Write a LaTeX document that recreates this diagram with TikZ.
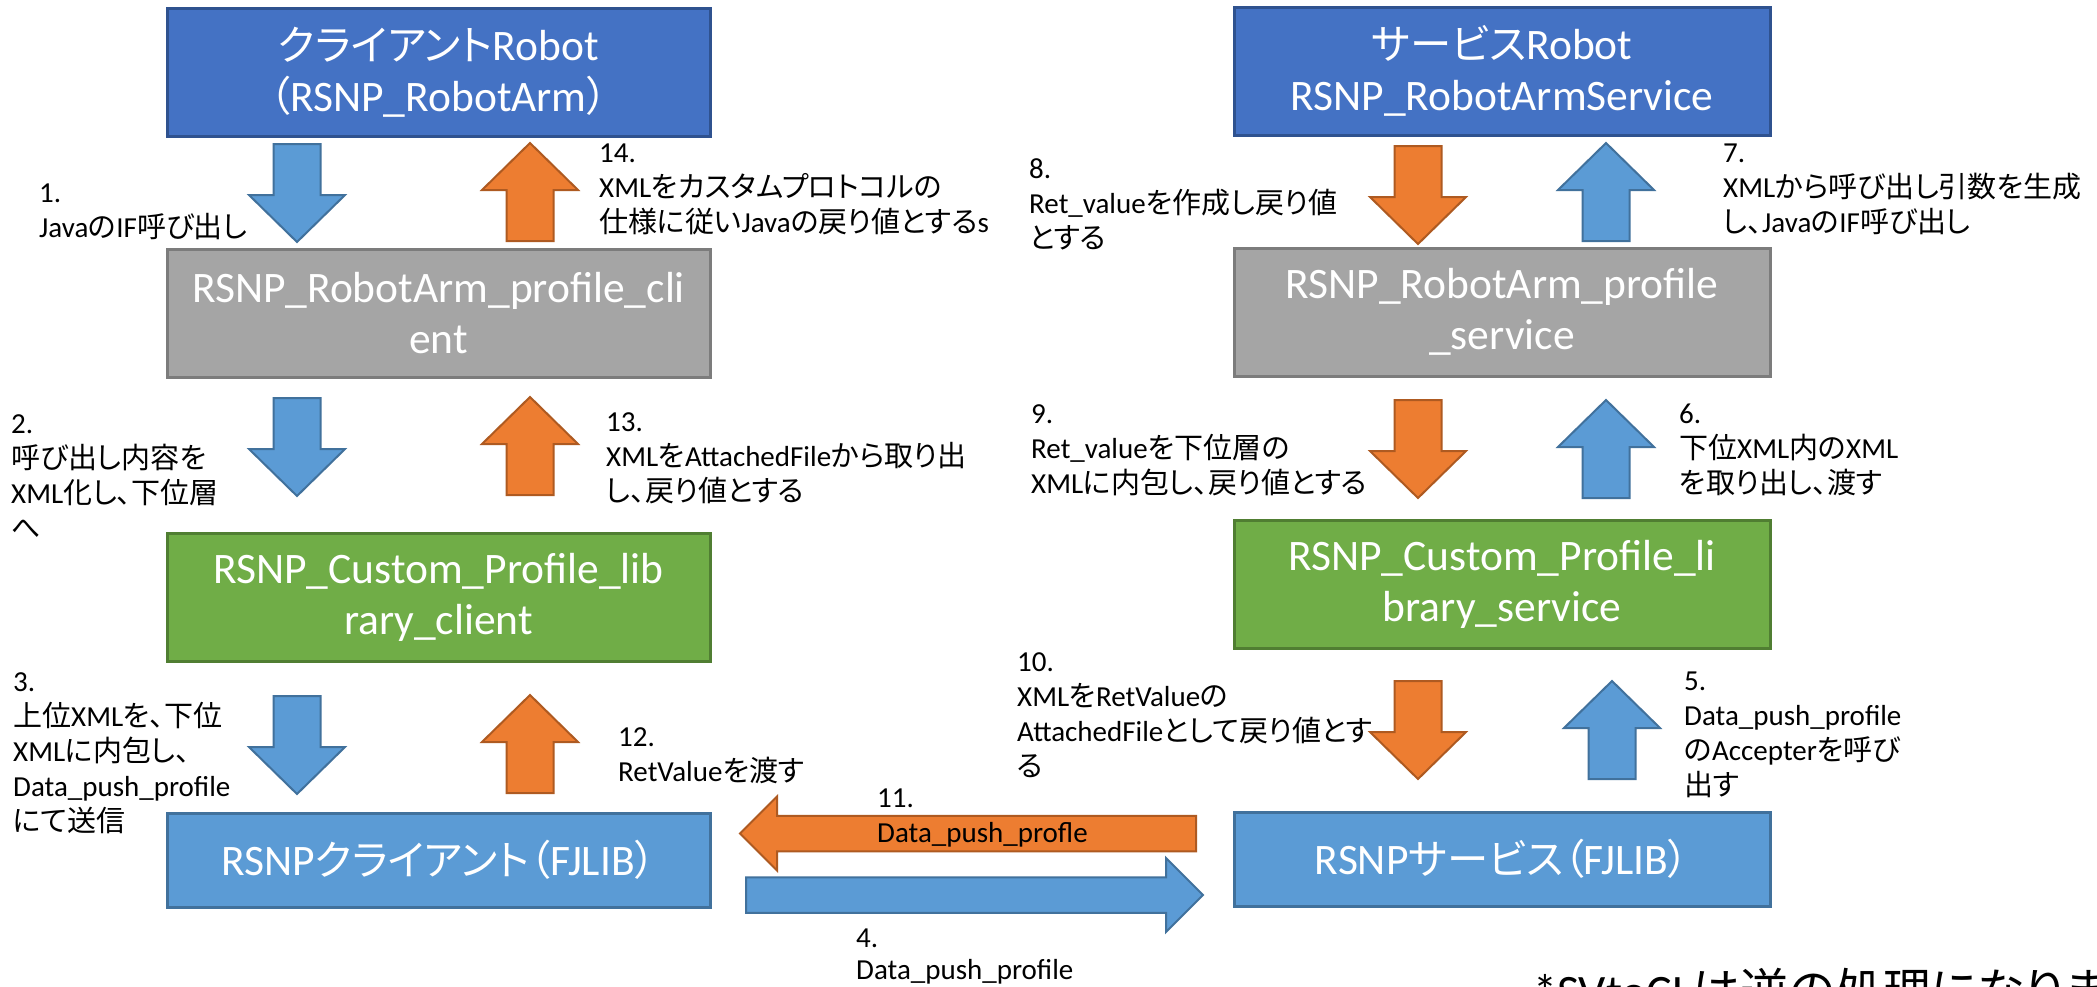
\documentclass[tikz,border=0pt]{standalone}
\usepackage{fontspec}
\setmainfont{Carlito}
\newfontfamily\jpnote[Scale=1.0,RawFeature={+palt}]{Noto Sans CJK JP}
\newfontfamily\jpbox[Scale=0.95,RawFeature={+palt}]{Noto Sans CJK JP}
\let\jpcur\jpnote
\newcommand\jtxt[1]{{\jpcur #1}}

\definecolor{robotblue}{HTML}{4472C4}
\definecolor{robotedge}{HTML}{2F528F}
\definecolor{libgray}{HTML}{A5A5A5}
\definecolor{grayedge}{HTML}{7C7C7C}
\definecolor{libgreen}{HTML}{70AD47}
\definecolor{greenedge}{HTML}{507E32}
\definecolor{fjblue}{HTML}{5B9BD5}
\definecolor{fjedge}{HTML}{41719C}
\definecolor{callorange}{HTML}{ED7D31}
\definecolor{orangeedge}{HTML}{AE5A21}

\tikzset{
  layer/.style={draw, line width=3pt, text=white, align=center, inner sep=0pt,
    font=\fontsize{43.5}{51}\selectfont\let\jpcur\jpbox},
  leftcol/.style={minimum width=543pt},
  rightcol/.style={minimum width=536pt},
  tall/.style={minimum height=128pt},
  flat/.style={minimum height=94pt},
  robotbox/.style={layer, fill=robotblue, draw=robotedge},
  profilebox/.style={layer, fill=libgray, draw=grayedge},
  librarybox/.style={layer, fill=libgreen, draw=greenedge},
  fjlibbox/.style={layer, fill=fjblue, draw=fjedge},
  bluearrow/.style={fill=fjblue, draw=fjedge, line width=2pt, line join=miter},
  orangearrow/.style={fill=callorange, draw=orangeedge, line width=2pt, line join=miter},
  note/.style={anchor=north west, align=left, inner sep=0pt,
    font=\fontsize{29}{35}\selectfont},
  % block arrow pointing along +x, tail centred at the origin
  pics/vblock/.style={code={
    \path[pic actions] (0,-23.5) -- (51,-23.5) -- (51,-48) -- (98,0)
      -- (51,48) -- (51,23.5) -- (0,23.5) -- cycle;}},
  pics/hblock/.style={code={
    \path[pic actions] (0,-17.75) -- ({#1-37},-17.75) -- ({#1-37},-37) -- (#1,0)
      -- ({#1-37},37) -- ({#1-37},17.75) -- (0,17.75) -- cycle;}},
}

\begin{document}
\begin{tikzpicture}[x=1pt,y=-1pt]
\useasboundingbox (0,0) rectangle (2097,986);
\fill[white] (0,0) rectangle (2097,986);
\clip (0,0) rectangle (2097,986);

% client side stack
\node[robotbox, leftcol, tall] (cRobot) at (438.5,72)
  {\jtxt{クライアント}Robot\\\jtxt{（}RSNP\_RobotArm\jtxt{）}};
\node[profilebox, leftcol, tall] (cProfile) at (438.5,313.5)
  {RSNP\_RobotArm\_profile\_cli\\ent};
\node[librarybox, leftcol, tall] (cLib) at (438.5,597)
  {RSNP\_Custom\_Profile\_lib\\rary\_client};
\node[fjlibbox, leftcol, flat] (cFJ) at (438.5,860)
  {RSNP\jtxt{クライアント（}FJLIB\jtxt{）}};

% service side stack
\node[robotbox, rightcol, tall] (sRobot) at (1502,71)
  {\jtxt{サービス}Robot\\RSNP\_RobotArmService};
\node[profilebox, rightcol, tall] (sProfile) at (1502,312)
  {RSNP\_RobotArm\_profile\\\_service};
\node[librarybox, rightcol, tall] (sLib) at (1502,584.5)
  {RSNP\_Custom\_Profile\_li\\brary\_service};
\node[fjlibbox, rightcol, flat] (sFJ) at (1502,859)
  {RSNP\jtxt{サービス（}FJLIB\jtxt{）}};

% downward calls, client side
\pic[bluearrow, rotate=-90] at (297,144) {vblock};
\pic[bluearrow, rotate=-90] at (297,398) {vblock};
\pic[bluearrow, rotate=-90] at (297,696) {vblock};
% upward returns, client side
\pic[orangearrow, rotate=90] at (530,241) {vblock};
\pic[orangearrow, rotate=90] at (530,495) {vblock};
\pic[orangearrow, rotate=90] at (530,793) {vblock};
% downward returns, service side
\pic[orangearrow, rotate=-90] at (1418,146) {vblock};
\pic[orangearrow, rotate=-90] at (1418,400) {vblock};
\pic[orangearrow, rotate=-90] at (1418,681) {vblock};
% upward calls, service side
\pic[bluearrow, rotate=90] at (1606,241) {vblock};
\pic[bluearrow, rotate=90] at (1606,498) {vblock};
\pic[bluearrow, rotate=90] at (1612,779) {vblock};
% transport between the two libraries
\pic[orangearrow, rotate=180] at (1196,833.5) {hblock=456};
\pic[bluearrow] at (746,895) {hblock=457};

% step notes
\node[note] (n1) at (39,184) {1.\\Java\jtxt{の}IF\jtxt{呼び出し}};
\node[note] (n14) at (599,144)
  {14.\\XML\jtxt{をカスタムプロトコルの}\\\jtxt{仕様に従い}Java\jtxt{の戻り値とする}s};
\node[note] (n2) at (11,414)
  {2.\\\jtxt{呼び出し内容を}\\XML\jtxt{化し、下位層}\\\jtxt{へ}};
\node[note] (n13) at (606,412)
  {13.\\XML\jtxt{を}AttachedFile\jtxt{から取り出}\\\jtxt{し、戻り値とする}};
\node[note] (n3) at (13,672)
  {3.\\\jtxt{上位}XML\jtxt{を、下位}\\XML\jtxt{に内包し、}\\Data\_push\_profile\\\jtxt{にて送信}};
\node[note] (n12) at (618,727) {12.\\RetValue\jtxt{を渡す}};
\node[note] (n11) at (877,789) {11.\\Data\_push\_profle};
\node[note, font=\fontsize{29}{32}\selectfont] (n4) at (856,929) {4.\\Data\_push\_profile};
\node[note] (n8) at (1029,158)
  {8.\\Ret\_value\jtxt{を作成し戻り値}\\\jtxt{とする}};
\node[note] (n7) at (1723,144)
  {7.\\XML\jtxt{から呼び出し引数を生成}\\\jtxt{し、}Java\jtxt{の}IF\jtxt{呼び出し}};
\node[note] (n9) at (1031,404)
  {9.\\Ret\_value\jtxt{を下位層の}\\XML\jtxt{に内包し、戻り値とする}};
\node[note] (n6) at (1679,404)
  {6.\\\jtxt{下位}XML\jtxt{内の}XML\\\jtxt{を取り出し、渡す}};
\node[note] (n10) at (1017,652)
  {10.\\XML\jtxt{を}RetValue\jtxt{の}\\AttachedFile\jtxt{として戻り値とす}\\\jtxt{る}};
\node[note] (n5) at (1684,672)
  {5.\\Data\_push\_profile\\\jtxt{の}Accepter\jtxt{を呼び}\\\jtxt{出す}};

% footnote, running off the lower edge
\node[anchor=base west, inner sep=0pt, font=\fontsize{48}{58}\selectfont] (foot)
  at (1533,1008) {*SVtoCL\jtxt{は逆の処理になります}};
\end{tikzpicture}
\end{document}
